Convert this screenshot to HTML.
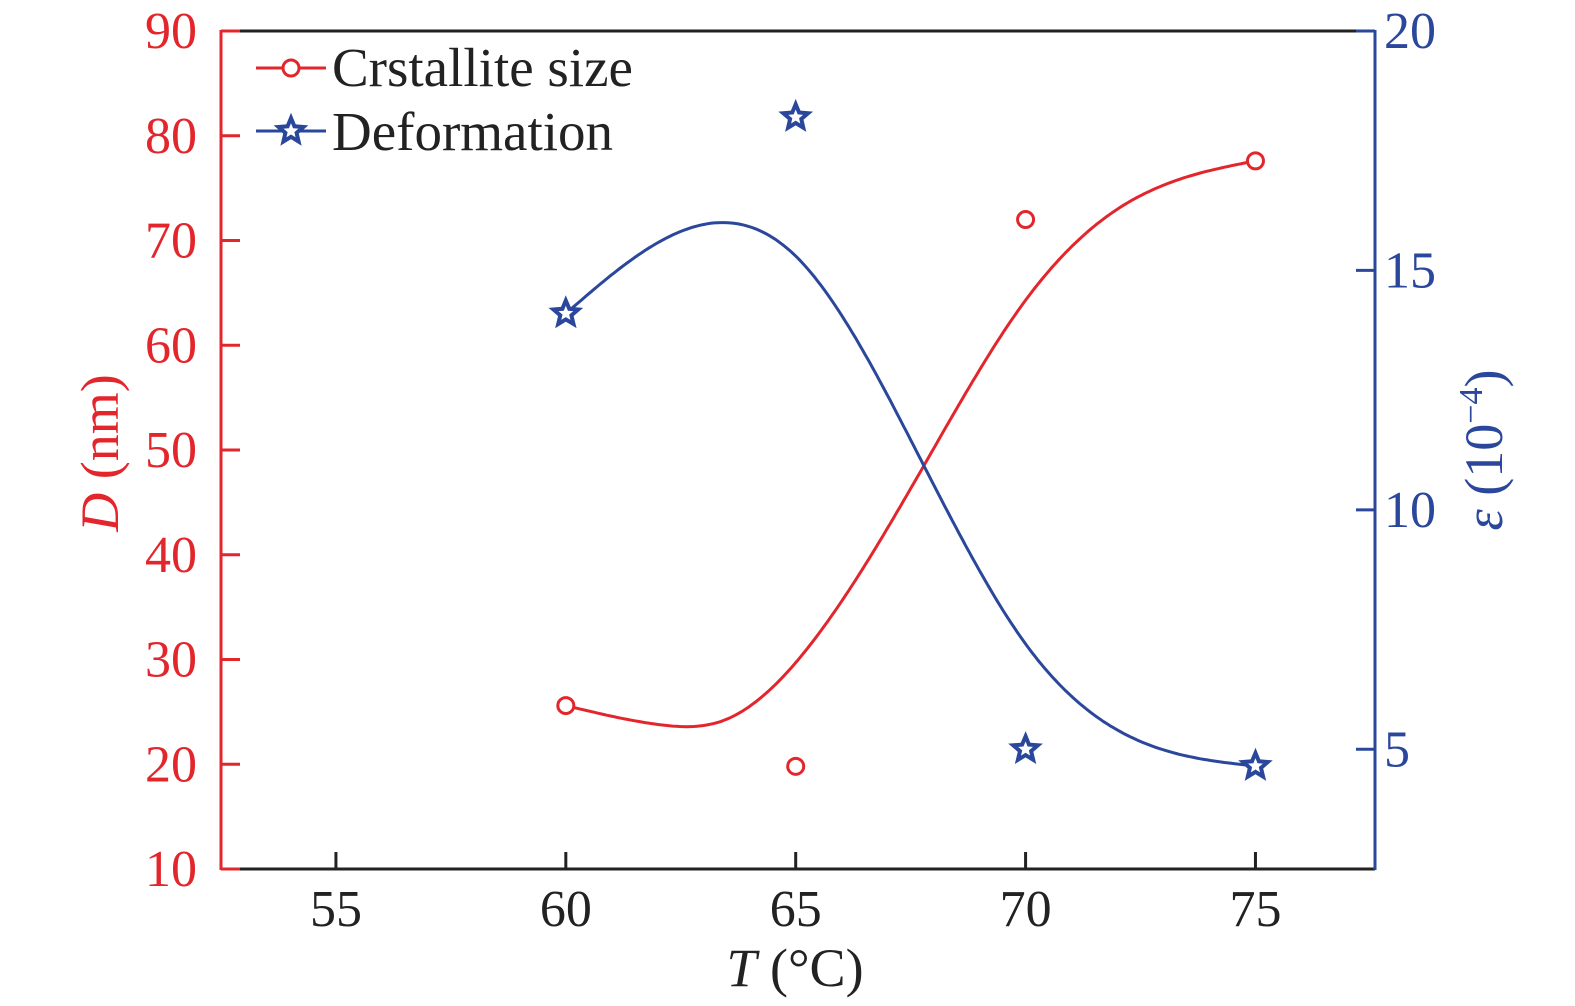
<!DOCTYPE html>
<html><head><meta charset="utf-8"><style>
html,body{margin:0;padding:0;background:#fff}
svg{display:block}
text{font-family:"Liberation Serif",serif}
</style></head><body>
<svg id="chart" width="1575" height="1006" viewBox="0 0 1575 1006"></svg>
<script>
const categories=[60,65,70,75];
const crystalSize=[25.6,19.8,72.0,77.6];
const deformation=[14.1,18.2,5.0,4.65];
const sizeFitT=[60,62,63.5,65,67.8,70,72,75];
const sizeFitV=[25.6,23.8,24.3,29.7,48.6,64.3,73,77.6];
const defFitT=[60,63.4,65,67.8,70,72,75];
const defFitV=[14.1,16.0,15.3,10.9,7.2,5.4,4.65];
const xTicks=[55,60,65,70,75];
const yLeftTicks=[10,20,30,40,50,60,70,80,90];
const yRightTicks=[5,10,15,20];
const RED="#e2262c",BLUE="#2a479c";
const L=221,R=1375,T=31,B=869;
const xs=v=>L+(v-52.5)/(77.6-52.5)*(R-L);
const yl=v=>B-(v-10)/80*(B-T);
const yr=v=>B-(v-2.5)/17.5*(B-T);
const svg=document.getElementById('chart');
const NS="http://www.w3.org/2000/svg";
function mk(tag,attrs,parent){const e=document.createElementNS(NS,tag);for(const k in attrs)e.setAttribute(k,attrs[k]);(parent||svg).appendChild(e);return e;}
function txt(s,attrs){const e=mk('text',attrs);e.textContent=s;return e;}
let e;
e=mk('line',{x1:L,y1:T,x2:R,y2:T,stroke:'#222','stroke-width':3});

e=mk('line',{x1:L,y1:B,x2:R,y2:B,stroke:'#222','stroke-width':3});

e=mk('line',{x1:L,y1:T-1,x2:L,y2:B+1,stroke:RED,'stroke-width':3});

e=mk('line',{x1:R,y1:T-1,x2:R,y2:B+1,stroke:BLUE,'stroke-width':3});

xTicks.forEach(v=>{const x=xs(v);
 e=mk('line',{x1:x,y1:B,x2:x,y2:B-17,stroke:'#222','stroke-width':3});
 
 e=txt(String(v),{x:x,y:B+57,'font-size':52,'text-anchor':'middle',fill:'#222'});
 });
yLeftTicks.forEach(v=>{const y=yl(v);
 e=mk('line',{x1:L,y1:y,x2:L+19,y2:y,stroke:RED,'stroke-width':3});
 
 e=txt(String(v),{x:197,y:y+17,'font-size':52,'text-anchor':'end',fill:RED});
 });
yRightTicks.forEach(v=>{const y=yr(v);
 e=mk('line',{x1:R-19,y1:y,x2:R,y2:y,stroke:BLUE,'stroke-width':3});
 
 e=txt(String(v),{x:1384,y:y+17,'font-size':52,'text-anchor':'start',fill:BLUE});
 });
e=txt('',{x:795,y:986,'font-size':54,'text-anchor':'middle',fill:'#222'});
e.innerHTML='<tspan font-style="italic">T</tspan> (°C)';

e=txt('',{transform:'translate(118,453) rotate(-90)','font-size':54,'text-anchor':'middle',fill:RED});
e.innerHTML='<tspan font-style="italic">D</tspan> (nm)';

e=txt('',{transform:'translate(1502,450) rotate(-90)','font-size':54,'text-anchor':'middle',fill:BLUE});
e.innerHTML='<tspan font-style="italic">ε</tspan> (10<tspan dy="-20" font-size="34">−4</tspan><tspan dy="20">)</tspan>';

function spline(xv,yv){const n=xv.length,h=[],a=[],l=[1],mu=[0],z=[0],c=new Array(n).fill(0),b=[],d=[];
 for(let i=0;i<n-1;i++)h.push(xv[i+1]-xv[i]);
 for(let i=1;i<n-1;i++)a[i]=3/h[i]*(yv[i+1]-yv[i])-3/h[i-1]*(yv[i]-yv[i-1]);
 for(let i=1;i<n-1;i++){l[i]=2*(xv[i+1]-xv[i-1])-h[i-1]*mu[i-1];mu[i]=h[i]/l[i];z[i]=(a[i]-h[i-1]*z[i-1])/l[i];}
 for(let j=n-2;j>=0;j--){c[j]=(j>0?z[j]:0)-mu[j]*c[j+1];b[j]=(yv[j+1]-yv[j])/h[j]-h[j]*(c[j+1]+2*c[j])/3;d[j]=(c[j+1]-c[j])/(3*h[j]);}
 return t=>{let j=0;while(j<n-2&&t>xv[j+1])j++;const dx=t-xv[j];return yv[j]+b[j]*dx+c[j]*dx*dx+d[j]*dx*dx*dx;};}
function path(tv,vv,ys){const f=spline(tv,vv);let d='';const t0=tv[0],t1=tv[tv.length-1];
 for(let k=0;k<=200;k++){const t=t0+(t1-t0)*k/200;d+=(k?'L':'M')+xs(t).toFixed(1)+','+ys(f(t)).toFixed(1);}return d;}
e=mk('path',{d:path(sizeFitT,sizeFitV,yl),fill:'none',stroke:RED,'stroke-width':3});

e=mk('path',{d:path(defFitT,defFitV,yr),fill:'none',stroke:BLUE,'stroke-width':3});

function star(cx,cy,r){let p=[];for(let i=0;i<10;i++){const a=-Math.PI/2+i*Math.PI/5,rr=i%2?r*0.45:r;p.push((cx+rr*Math.cos(a)).toFixed(1)+','+(cy+rr*Math.sin(a)).toFixed(1));}return p.join(' ');}
categories.forEach((t,i)=>{
 e=mk('circle',{cx:xs(t),cy:yl(crystalSize[i]),r:8,fill:'#fff',stroke:RED,'stroke-width':3});
 
 e=mk('polygon',{points:star(xs(t),yr(deformation[i]),13),fill:'#fff',stroke:BLUE,'stroke-width':4});
 });
const lg=mk('g',{});
e=mk('line',{x1:256,y1:68,x2:326,y2:68,stroke:RED,'stroke-width':3},lg);
e=mk('circle',{cx:291,cy:68,r:8,fill:'#fff',stroke:RED,'stroke-width':3},lg);

e=txt('Crstallite size',{x:332,y:86,'font-size':55,fill:'#222'});lg.appendChild(e);

e=mk('line',{x1:256,y1:131,x2:326,y2:131,stroke:BLUE,'stroke-width':3},lg);
e=mk('polygon',{points:star(291,131,13),fill:'#fff',stroke:BLUE,'stroke-width':4},lg);

e=txt('Deformation',{x:332,y:150,'font-size':55,fill:'#222'});lg.appendChild(e);

</script>
</body></html>
